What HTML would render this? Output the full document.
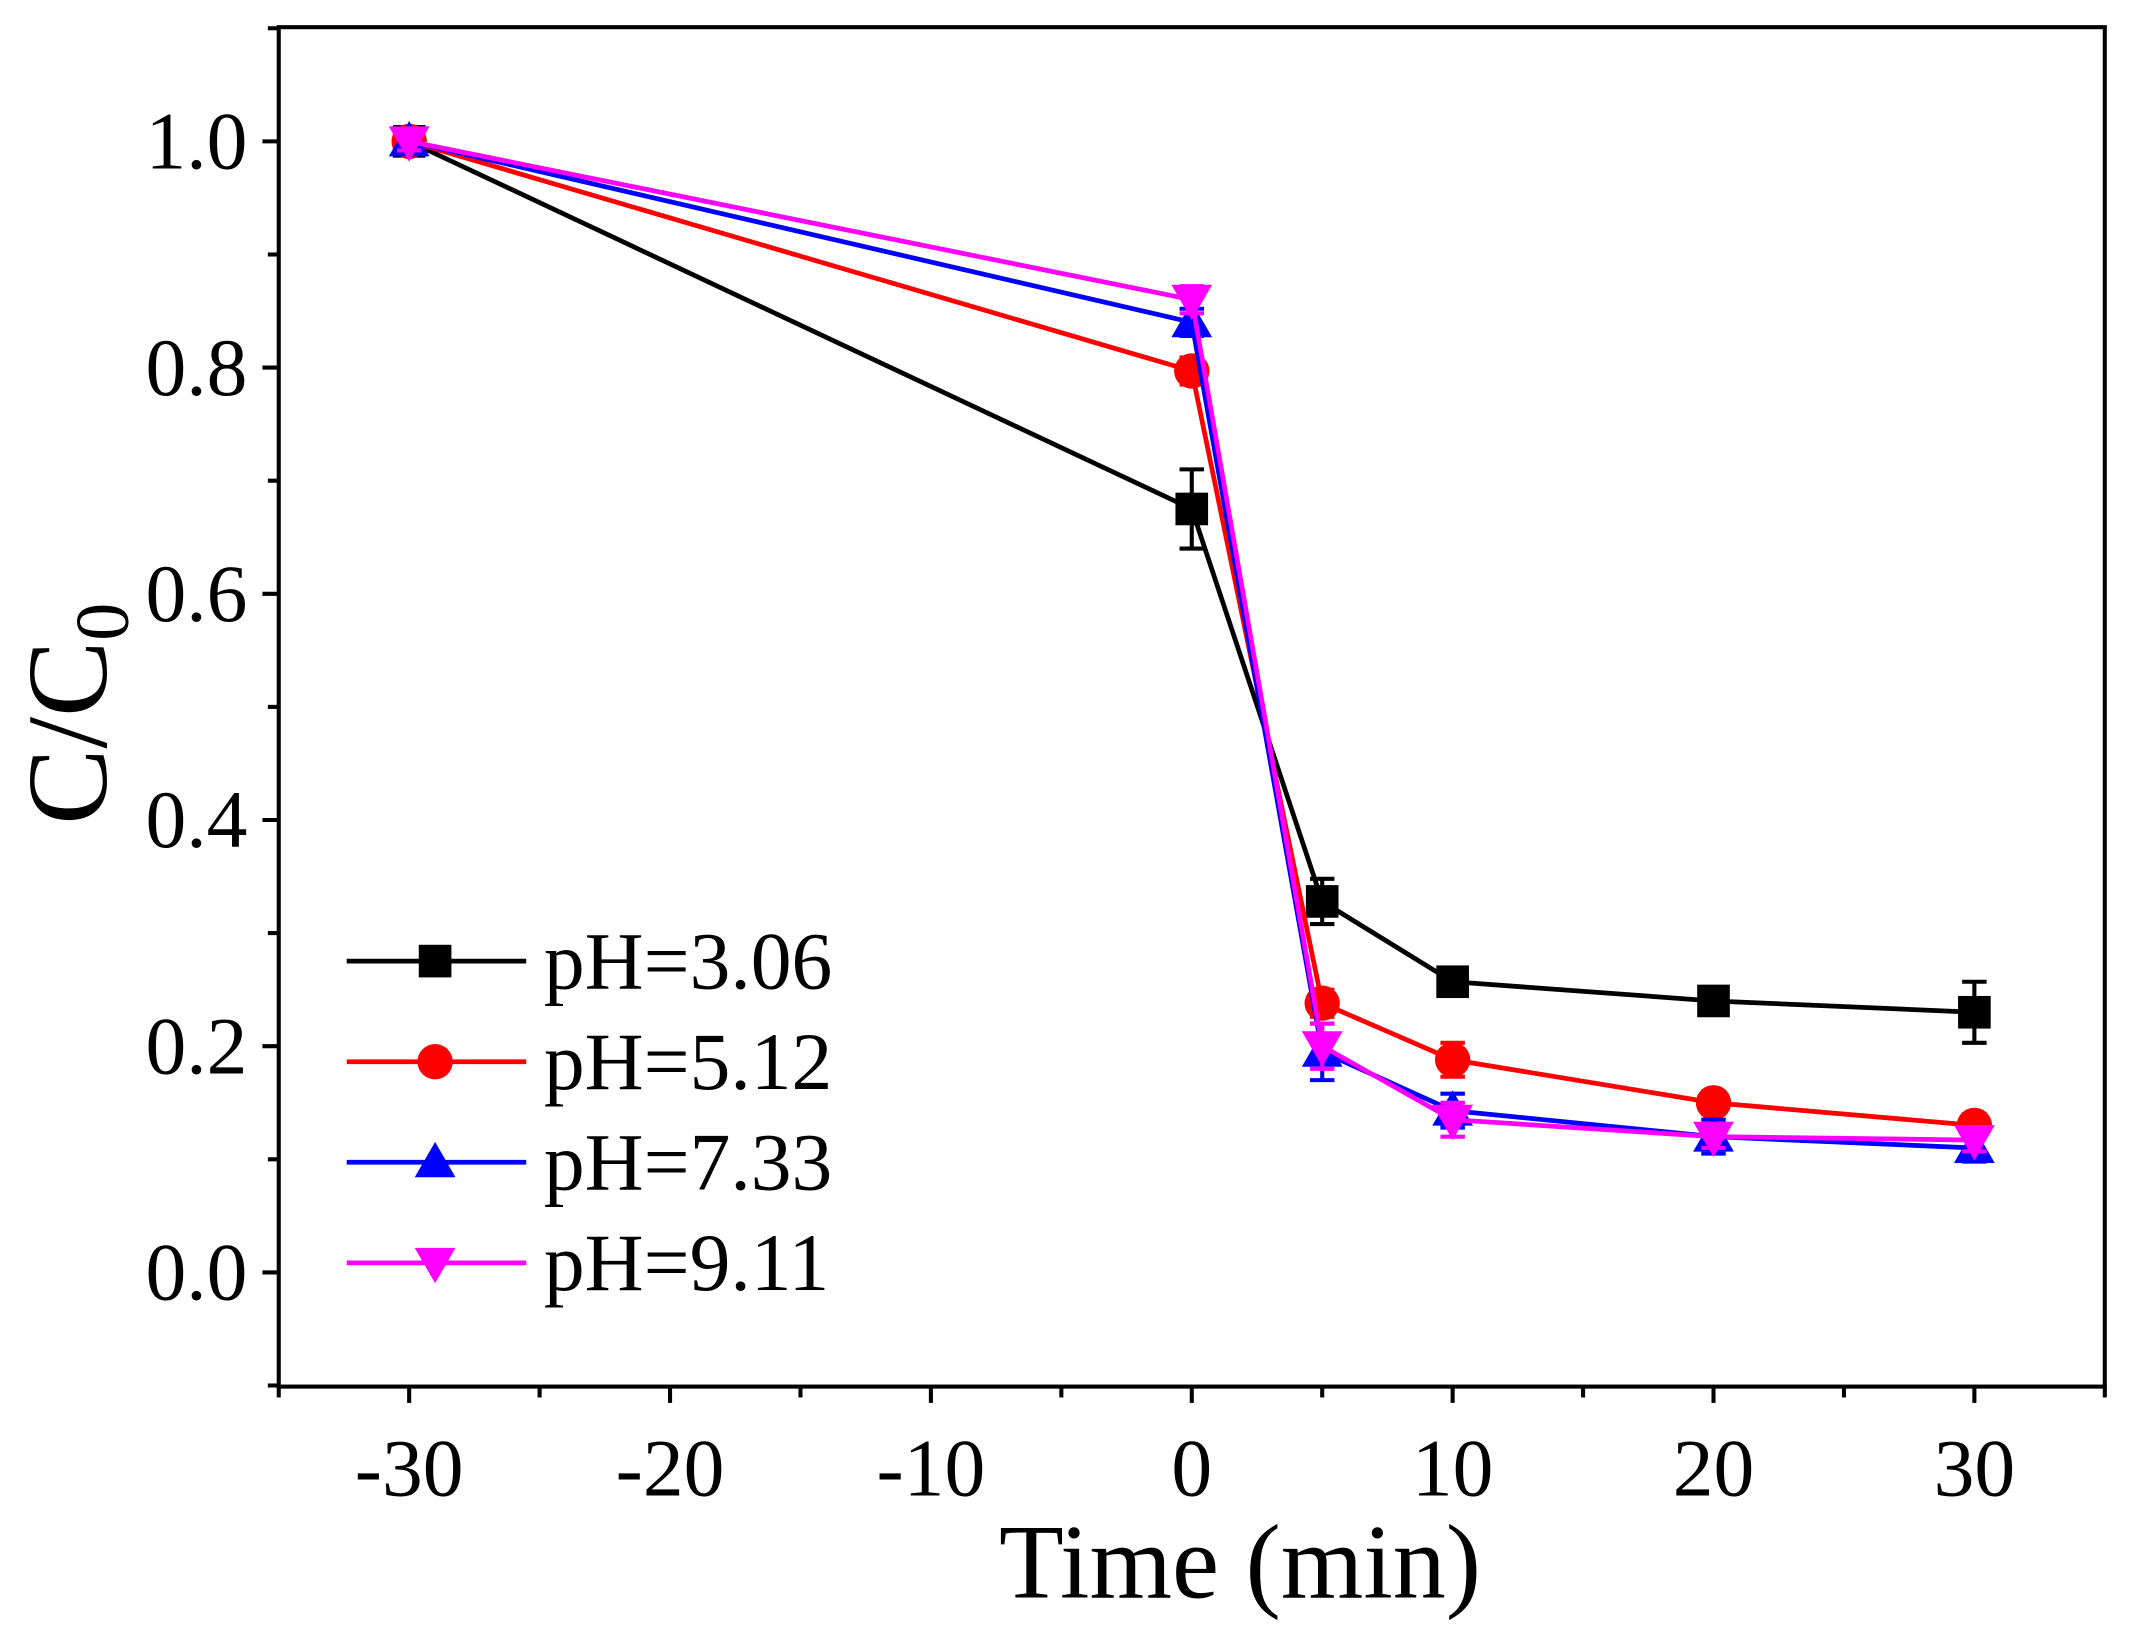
<!DOCTYPE html>
<html><head><meta charset="utf-8"><style>html,body{margin:0;padding:0;background:#fff}svg{display:block}</style></head>
<body>
<svg id="chart" width="2132" height="1634" viewBox="0 0 1568 1202" preserveAspectRatio="none" xmlns="http://www.w3.org/2000/svg" font-family="Liberation Serif, serif">
<rect x="205" y="20" width="1343" height="1000" fill="none" stroke="#000" stroke-width="3"/>
<g id="axes"></g><g id="series"></g><g id="legend"></g>
<text x="912" y="1175" font-size="78" text-anchor="middle">Time (min)</text>
<text transform="translate(78,525) rotate(-90)" font-size="84" text-anchor="middle">C/C<tspan font-size="56" dy="16">0</tspan></text>
</svg>
<script>
const times=[-30,0,5,10,20,30];
const s1=[1.0,0.675,0.328,0.257,0.240,0.230];
const s2=[1.0,0.797,0.238,0.188,0.150,0.130];
const s3=[1.0,0.840,0.195,0.143,0.120,0.110];
const s4=[1.0,0.860,0.200,0.135,0.120,0.117];
const e1=[0.008,0.035,0.02,0.012,0.01,0.027];
const e2=[0.006,0.012,0.012,0.015,0.01,0.01];
const e3=[0.008,0.012,0.025,0.015,0.015,0.012];
const e4=[0.008,0.012,0.02,0.015,0.01,0.01];
const labels=['pH=3.06','pH=5.12','pH=7.33','pH=9.11'];
const xTicks=[-30,-20,-10,0,10,20,30];
const yTicks=[0.0,0.2,0.4,0.6,0.8,1.0];
const NS='http://www.w3.org/2000/svg';
const X=v=>205+(v+35)/70*1343;
const Y=v=>936-v*832;
function mk(p,t,a){const e=document.createElementNS(NS,t);for(const k in a)e.setAttribute(k,a[k]);p.appendChild(e);return e;}
const ax=document.getElementById('axes');
for(let v=-35;v<=35;v+=5){const l=mk(ax,'line',{x1:X(v),x2:X(v),y1:1020,y2:v%10===0?1032:1028,stroke:'#000','stroke-width':3});

}
xTicks.forEach(v=>{const t=mk(ax,'text',{x:X(v),y:1100,'font-size':60,'text-anchor':'middle'});t.textContent=v;

});
for(let i=-1;i<=11;i++){const v=i/10;const l=mk(ax,'line',{x1:i%2===0?193:197,x2:205,y1:Y(v),y2:Y(v),stroke:'#000','stroke-width':3});

}
yTicks.forEach(v=>{const t=mk(ax,'text',{x:182,y:Y(v)+20,'font-size':60,'text-anchor':'end'});t.textContent=v.toFixed(1);

});
const cols=['#000','#ff0000','#0000ff','#ff00ff'];
const data=[s1,s2,s3,s4],errs=[e1,e2,e3,e4];
function marker(g,k,x,y,c){let m;
if(k===0)m=mk(g,'rect',{x:x-12,y:y-12,width:24,height:24,fill:c});
else if(k===1)m=mk(g,'circle',{cx:x,cy:y,r:13,fill:c});
else if(k===2)m=mk(g,'polygon',{points:`${x},${y-15} ${x-15},${y+11} ${x+15},${y+11}`,fill:c});
else m=mk(g,'polygon',{points:`${x},${y+15} ${x-15},${y-11} ${x+15},${y-11}`,fill:c});
return m;}
const sg=document.getElementById('series');
data.forEach((d,k)=>{const g=mk(sg,'g',{});


const pl=mk(g,'polyline',{points:times.map((t,i)=>X(t)+','+Y(d[i])).join(' '),fill:'none',stroke:cols[k],'stroke-width':3.5});


times.forEach((t,i)=>{const x=X(t),y1=Y(d[i]+errs[k][i]),y2=Y(d[i]-errs[k][i]);
const eb=mk(g,'path',{d:`M${x},${y1}V${y2}M${x-9},${y1}H${x+9}M${x-9},${y2}H${x+9}`,stroke:cols[k],'stroke-width':3,fill:'none'});


const m=marker(g,k,x,Y(d[i]),cols[k]);

});});
const lg=document.getElementById('legend');
labels.forEach((lab,k)=>{const y=707+k*74;const g=mk(lg,'g',{});


mk(g,'line',{x1:255,x2:387,y1:y,y2:y,stroke:cols[k],'stroke-width':3.5});
marker(g,k,320,y,cols[k]);
const t=mk(g,'text',{x:400,y:y+20,'font-size':60});t.textContent=lab;});
</script>
</body></html>
